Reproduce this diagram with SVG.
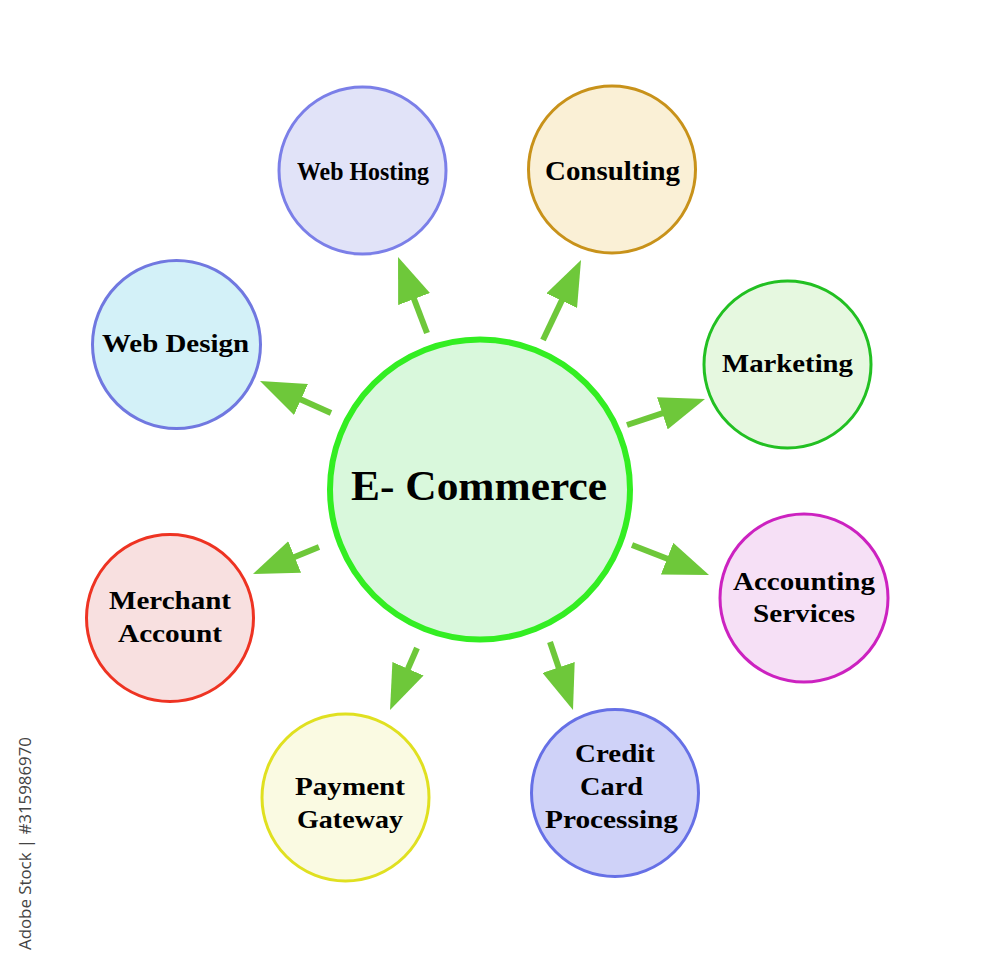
<svg xmlns="http://www.w3.org/2000/svg" width="1000" height="973" viewBox="0 0 1000 973">
<style>
.n{stroke-width:3}
.t{font-family:"Liberation Serif","Times New Roman",serif;font-weight:bold;font-size:26px;fill:#000;text-anchor:middle}
.c{fill:none;stroke:#6ec83a;stroke-width:6;marker-end:url(#ah)}
.wm{font-family:"Open Sans","Liberation Sans",sans-serif;font-size:16px;fill:#444}
</style>
<defs>
<marker id="ah" viewBox="0 0 45 34" refX="10" refY="17" markerWidth="45" markerHeight="34" markerUnits="userSpaceOnUse" orient="auto">
<path d="M0,0 L45,17 L0,34 Z" fill="#6ec83a"/>
</marker>
</defs>
<rect width="1000" height="973" fill="#fff"/>
<g id="connectors">
<line class="c" x1="427" y1="333" x2="410.5" y2="289.7"/>
<line class="c" x1="543" y1="340" x2="566" y2="291.6"/>
<line class="c" x1="627" y1="425" x2="671.8" y2="410.1"/>
<line class="c" x1="632" y1="545" x2="676.4" y2="562.3"/>
<line class="c" x1="550" y1="642" x2="561.8" y2="676.9"/>
<line class="c" x1="417" y1="648" x2="404" y2="677.9"/>
<line class="c" x1="319" y1="547" x2="285.4" y2="560.7"/>
<line class="c" x1="331" y1="413" x2="291.9" y2="395.4"/>
</g>
<g id="center">
<circle cx="480" cy="489.5" r="150" fill="#d9f8dc" stroke="#33ee22" stroke-width="6"/>
<text class="t" x="479" y="500" style="font-size:43px" textLength="256" lengthAdjust="spacingAndGlyphs">E- Commerce</text>
</g>
<g id="web-hosting">
<circle class="n" cx="362.5" cy="170.5" r="83.5" fill="#e1e3f8" stroke="#7b7fe8"/>
<text class="t" x="363" y="180" textLength="132" lengthAdjust="spacingAndGlyphs">Web Hosting</text>
</g>
<g id="consulting">
<circle class="n" cx="612" cy="169.5" r="83.5" fill="#faf0d6" stroke="#c8921a"/>
<text class="t" x="612.5" y="180" style="font-size:28px" textLength="135" lengthAdjust="spacingAndGlyphs">Consulting</text>
</g>
<g id="marketing">
<circle class="n" cx="787.5" cy="364.5" r="83.5" fill="#e6f8e0" stroke="#22c022"/>
<text class="t" x="787.5" y="372" textLength="131" lengthAdjust="spacingAndGlyphs">Marketing</text>
</g>
<g id="accounting-services">
<circle class="n" cx="804" cy="598" r="84" fill="#f6e0f6" stroke="#cc22c0"/>
<text class="t" x="804" y="590" textLength="142" lengthAdjust="spacingAndGlyphs">Accounting</text>
<text class="t" x="804" y="622" textLength="102" lengthAdjust="spacingAndGlyphs">Services</text>
</g>
<g id="credit-card-processing">
<circle class="n" cx="615" cy="793" r="83.5" fill="#cfd2f8" stroke="#6670e6"/>
<text class="t" x="615" y="762" textLength="80" lengthAdjust="spacingAndGlyphs">Credit</text>
<text class="t" x="611.5" y="795" textLength="63" lengthAdjust="spacingAndGlyphs">Card</text>
<text class="t" x="611.5" y="828" textLength="133" lengthAdjust="spacingAndGlyphs">Processing</text>
</g>
<g id="payment-gateway">
<circle class="n" cx="345.5" cy="797.5" r="83.5" fill="#fafae2" stroke="#e0e020"/>
<text class="t" x="350" y="795" textLength="110" lengthAdjust="spacingAndGlyphs">Payment</text>
<text class="t" x="350" y="828" textLength="106" lengthAdjust="spacingAndGlyphs">Gateway</text>
</g>
<g id="merchant-account">
<circle class="n" cx="170" cy="618" r="83.5" fill="#f8e0e0" stroke="#ee3322"/>
<text class="t" x="170" y="609" textLength="122" lengthAdjust="spacingAndGlyphs">Merchant</text>
<text class="t" x="170" y="642" textLength="104" lengthAdjust="spacingAndGlyphs">Account</text>
</g>
<g id="web-design">
<circle class="n" cx="176.5" cy="344.5" r="84" fill="#d3f1f8" stroke="#7078e0"/>
<text class="t" x="175.5" y="352" textLength="147" lengthAdjust="spacingAndGlyphs">Web Design</text>
</g>
<text class="wm" transform="translate(31,950) rotate(-90)" textLength="213" lengthAdjust="spacingAndGlyphs">Adobe Stock | #315986970</text>
</svg>
